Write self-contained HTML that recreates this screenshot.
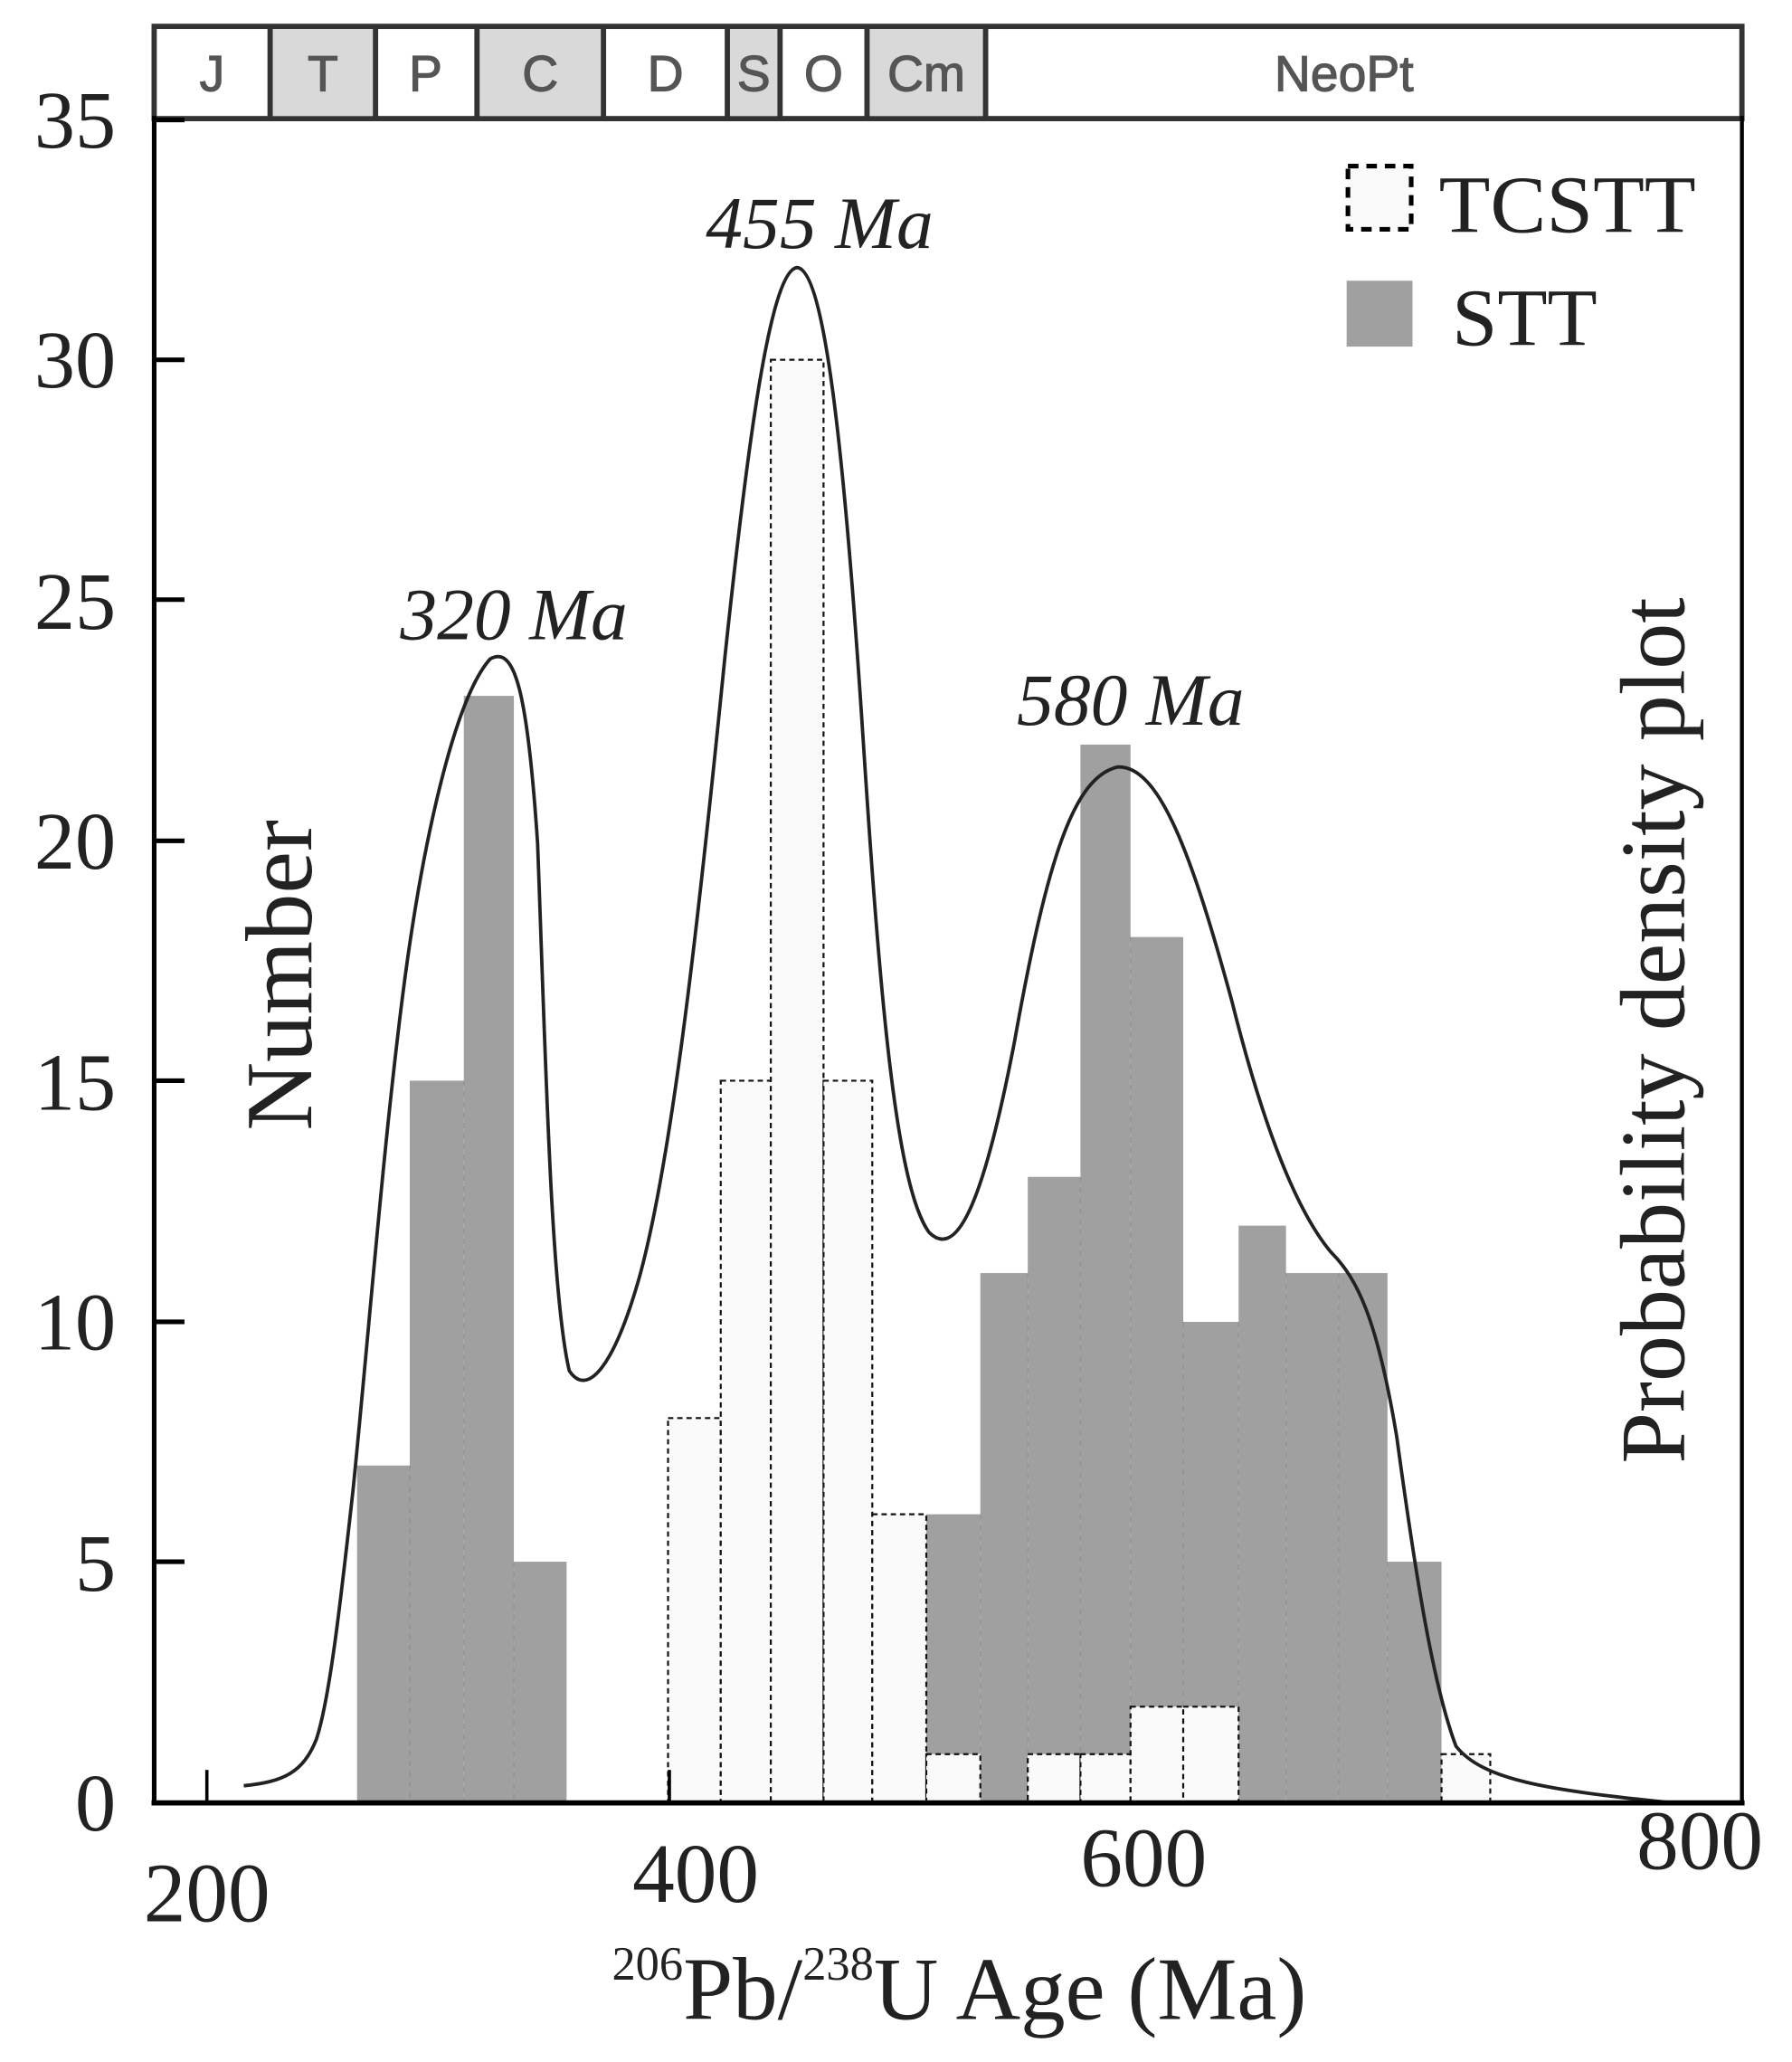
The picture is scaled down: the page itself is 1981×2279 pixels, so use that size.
<!DOCTYPE html>
<html><head><meta charset="utf-8"><style>html,body{margin:0;padding:0;background:#fff}svg{display:block}</style></head>
<body>
<svg width="1981" height="2279" viewBox="0 0 1360 1564.6" preserveAspectRatio="none" xmlns="http://www.w3.org/2000/svg">
<rect width="1360" height="1564.6" fill="#fff"/>
<g stroke="#333" stroke-width="4">
<rect x="117" y="20" width="1205" height="70" fill="#fff"/>
</g>
<g fill="#d9d9d9">
<rect x="205" y="22" width="80" height="66"/><rect x="362" y="22" width="96" height="66"/>
<rect x="552" y="22" width="40" height="66"/><rect x="658" y="22" width="90" height="66"/>
</g>
<g stroke="#333" stroke-width="4">
<line x1="205" y1="20" x2="205" y2="90"/><line x1="285" y1="20" x2="285" y2="90"/>
<line x1="362" y1="20" x2="362" y2="90"/><line x1="458" y1="20" x2="458" y2="90"/>
<line x1="552" y1="20" x2="552" y2="90"/><line x1="592" y1="20" x2="592" y2="90"/>
<line x1="658" y1="20" x2="658" y2="90"/><line x1="748" y1="20" x2="748" y2="90"/>
</g>
<g font-family="Liberation Sans, sans-serif" font-size="38" fill="#555" stroke="#555" stroke-width="0.8" text-anchor="middle">
<text x="161" y="69">J</text><text x="245" y="69">T</text><text x="323" y="69">P</text>
<text x="410" y="69">C</text><text x="505" y="69">D</text><text x="572" y="69">S</text>
<text x="625" y="69">O</text><text x="703" y="69">Cm</text><text x="1020" y="69">NeoPt</text>
</g>
<g fill="#a0a0a0">
<rect x="271" y="1112" width="40" height="256"/>
<rect x="311" y="820" width="41" height="548"/>
<rect x="352" y="528" width="38" height="840"/>
<rect x="390" y="1185" width="40" height="183"/>
<rect x="703" y="1149" width="41" height="219"/>
<rect x="744" y="966" width="36" height="402"/>
<rect x="780" y="893" width="40" height="475"/>
<rect x="820" y="565" width="38" height="803"/>
<rect x="858" y="711" width="40" height="657"/>
<rect x="898" y="1003" width="42" height="365"/>
<rect x="940" y="930" width="36" height="438"/>
<rect x="976" y="966" width="40" height="402"/>
<rect x="1016" y="966" width="37" height="402"/>
<rect x="1053" y="1185" width="41" height="183"/>
</g>
<g stroke="#888" stroke-width="1" stroke-dasharray="4,4" opacity="0.6">
<line x1="311" y1="1112" x2="311" y2="1368"/><line x1="352" y1="820" x2="352" y2="1368"/>
<line x1="390" y1="1185" x2="390" y2="1368"/><line x1="744" y1="1149" x2="744" y2="1368"/>
<line x1="780" y1="966" x2="780" y2="1368"/><line x1="820" y1="893" x2="820" y2="1368"/>
<line x1="858" y1="711" x2="858" y2="1368"/><line x1="898" y1="1003" x2="898" y2="1368"/>
<line x1="940" y1="1003" x2="940" y2="1368"/><line x1="976" y1="966" x2="976" y2="1368"/>
<line x1="1016" y1="966" x2="1016" y2="1368"/><line x1="1053" y1="1185" x2="1053" y2="1368"/>
</g>
<g fill="#fafafa" stroke="#111" stroke-width="1.5" stroke-dasharray="4,3">
<rect x="507" y="1076" width="40" height="292"/>
<rect x="547" y="820" width="38" height="548"/>
<rect x="585" y="273" width="40" height="1095"/>
<rect x="625" y="820" width="37" height="548"/>
<rect x="662" y="1149" width="41" height="219"/>
<rect x="703" y="1331" width="41" height="37"/>
<rect x="780" y="1331" width="40" height="37"/>
<rect x="820" y="1331" width="38" height="37"/>
<rect x="858" y="1295" width="40" height="73"/>
<rect x="898" y="1295" width="42" height="73"/>
<rect x="1094" y="1331" width="37" height="37"/>
</g>
<path d="M185,1355 C215,1352 230,1345 240,1320 C250,1290 258,1220 268,1130 C280,1010 290,880 305,760 C320,640 345,530 372,500 C390,490 400,520 408,640 C414,800 418,980 432,1040 C445,1060 465,1040 485,970 C510,880 530,700 550,500 C568,330 585,205 605,203 C625,205 640,330 655,560 C668,760 680,900 705,935 C725,955 745,920 770,790 C795,650 815,590 848,582 C880,580 905,650 935,760 C960,860 985,920 1010,950 C1030,970 1045,1000 1060,1090 C1075,1200 1088,1280 1105,1325 C1125,1350 1170,1358 1270,1368" fill="none" stroke="#222" stroke-width="2.6"/>
<g stroke="#000">
<line x1="117" y1="88" x2="117" y2="1370" stroke-width="3.5"/>
<line x1="1322" y1="88" x2="1322" y2="1370" stroke-width="3"/>
<line x1="115" y1="1368" x2="1324" y2="1368" stroke-width="4"/>
<g stroke-width="3.5">
<line x1="117" y1="1185" x2="140" y2="1185"/><line x1="117" y1="1003" x2="140" y2="1003"/>
<line x1="117" y1="820" x2="140" y2="820"/><line x1="117" y1="638" x2="140" y2="638"/>
<line x1="117" y1="455" x2="140" y2="455"/><line x1="117" y1="273" x2="140" y2="273"/>
<line x1="117" y1="91" x2="140" y2="91"/>
</g>
<line x1="157" y1="1343" x2="157" y2="1368" stroke-width="2.5"/>
<line x1="508" y1="1343" x2="508" y2="1368" stroke-width="2.5"/>
</g>
<g font-family="Liberation Serif, serif" font-size="62" fill="#222" text-anchor="end">
<text x="88" y="112">35</text><text x="88" y="294">30</text><text x="88" y="477">25</text>
<text x="88" y="659">20</text><text x="88" y="842">15</text><text x="88" y="1024">10</text>
<text x="88" y="1207">5</text><text x="88" y="1389">0</text>
</g>
<g font-family="Liberation Serif, serif" font-size="64" fill="#222" text-anchor="middle">
<text x="157" y="1458">200</text><text x="528" y="1443">400</text>
<text x="868" y="1431">600</text><text x="1290" y="1418">800</text>
</g>
<text x="728" y="1532" font-family="Liberation Serif, serif" font-size="68" fill="#222" text-anchor="middle"><tspan font-size="36" dy="-30">206</tspan><tspan dy="30">Pb/</tspan><tspan font-size="36" dy="-30">238</tspan><tspan dy="30">U Age (Ma)</tspan></text>
<text transform="translate(236,740) rotate(-90)" font-family="Liberation Serif, serif" font-size="72" fill="#222" text-anchor="middle">Number</text>
<text transform="translate(1278,782) rotate(-90)" font-family="Liberation Serif, serif" font-size="70" fill="#222" text-anchor="middle">Probability density plot</text>
<g font-family="Liberation Serif, serif" font-style="italic" font-size="56" fill="#222" text-anchor="middle">
<text x="390" y="485">320 Ma</text><text x="622" y="188">455 Ma</text><text x="858" y="550">580 Ma</text>
</g>
<rect x="1023" y="126" width="48" height="48" fill="#fafafa" stroke="#000" stroke-width="3.5" stroke-dasharray="8,6"/>
<rect x="1022" y="213" width="50" height="50" fill="#a0a0a0"/>
<g font-family="Liberation Serif, serif" font-size="62" fill="#222">
<text x="1092" y="176" textLength="195" lengthAdjust="spacingAndGlyphs">TCSTT</text>
<text x="1102" y="262">STT</text>
</g>
</svg>
</body></html>
